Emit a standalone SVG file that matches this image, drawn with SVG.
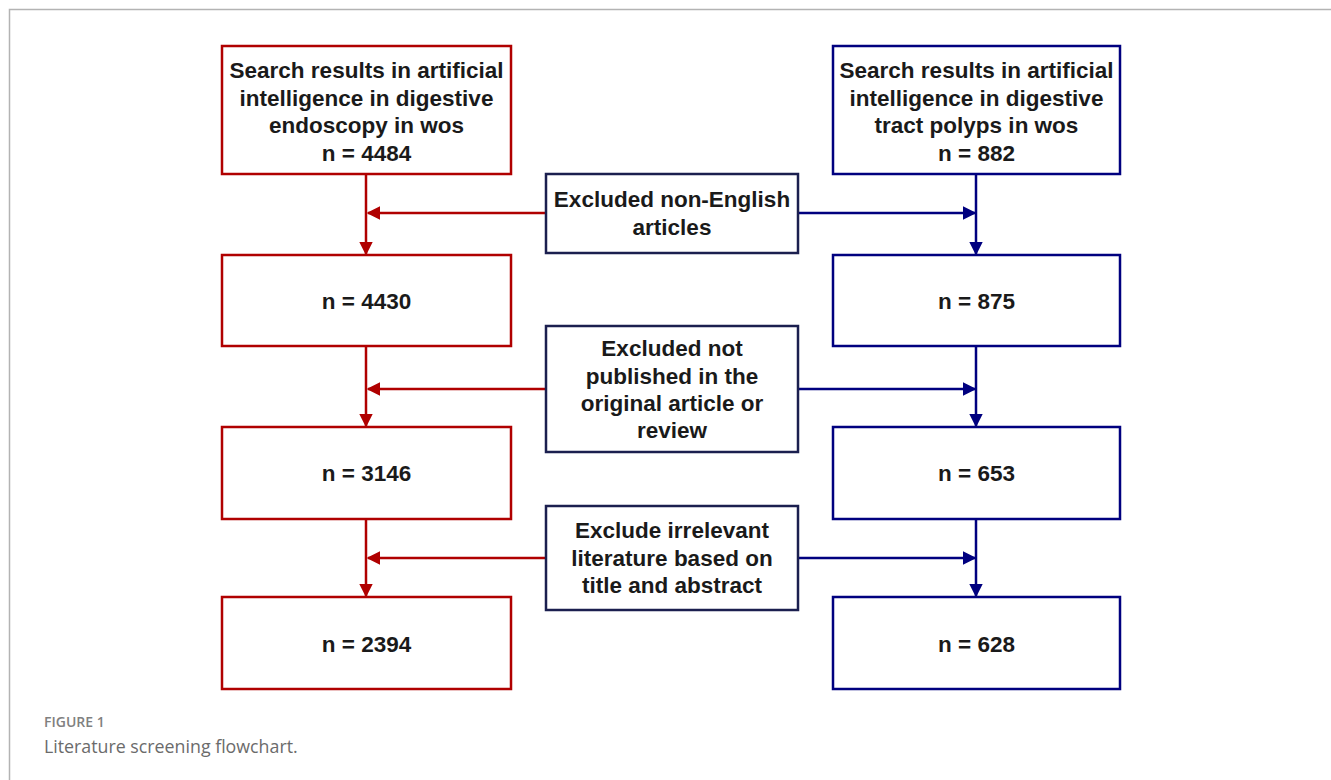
<svg xmlns="http://www.w3.org/2000/svg" width="1331" height="780" viewBox="0 0 1331 780">
<style>
.t{font-family:"Liberation Sans",Arial,sans-serif;font-weight:bold;font-size:22.5px;fill:#1a1a1a;text-anchor:middle}
.red{fill:#fff;stroke:#b00000;stroke-width:2.5}
.blue{fill:#fff;stroke:#00007f;stroke-width:2.5}
.mid{fill:#fff;stroke:#1b1f4f;stroke-width:2.5}
.rl{stroke:#b00000;stroke-width:2.5;fill:none}
.bl{stroke:#00007f;stroke-width:2.5;fill:none}
</style>
<defs>
<marker id="ar" viewBox="0 0 10 10" refX="9" refY="5" markerWidth="5.5" markerHeight="5.5" orient="auto" markerUnits="strokeWidth"><path d="M0,0L10,5L0,10z" fill="#b00000"/></marker>
<marker id="ab" viewBox="0 0 10 10" refX="9" refY="5" markerWidth="5.5" markerHeight="5.5" orient="auto" markerUnits="strokeWidth"><path d="M0,0L10,5L0,10z" fill="#00007f"/></marker>
</defs>
<rect width="1331" height="780" fill="#fff"/>
<path d="M9.5,780V9.5H1331" fill="none" stroke="#b3b3b3" stroke-width="1.5"/>
<g id="connectors">
<path class="rl" d="M366,174V254" marker-end="url(#ar)"/>
<path class="rl" d="M546,213H368" marker-end="url(#ar)"/>
<path class="bl" d="M976,174V254" marker-end="url(#ab)"/>
<path class="bl" d="M798,213H975" marker-end="url(#ab)"/>
<path class="rl" d="M366,346V426" marker-end="url(#ar)"/>
<path class="rl" d="M546,389H368" marker-end="url(#ar)"/>
<path class="bl" d="M976,346V426" marker-end="url(#ab)"/>
<path class="bl" d="M798,389H975" marker-end="url(#ab)"/>
<path class="rl" d="M366,519V596" marker-end="url(#ar)"/>
<path class="rl" d="M546,558H368" marker-end="url(#ar)"/>
<path class="bl" d="M976,519V596" marker-end="url(#ab)"/>
<path class="bl" d="M798,558H975" marker-end="url(#ab)"/>
</g>
<g id="l1"><rect class="red" x="222" y="46" width="289" height="128"/>
<text class="t" x="366.5" y="78">Search results in artificial</text>
<text class="t" x="366.5" y="106">intelligence in digestive</text>
<text class="t" x="366.5" y="133">endoscopy in wos</text>
<text class="t" x="366.5" y="161">n = 4484</text></g>
<g id="r1"><rect class="blue" x="833" y="46" width="287" height="128"/>
<text class="t" x="976.5" y="78">Search results in artificial</text>
<text class="t" x="976.5" y="106">intelligence in digestive</text>
<text class="t" x="976.5" y="133">tract polyps in wos</text>
<text class="t" x="976.5" y="161">n = 882</text></g>
<g id="l2"><rect class="red" x="222" y="255" width="289" height="91"/><text class="t" x="366.5" y="309">n = 4430</text></g>
<g id="r2"><rect class="blue" x="833" y="255" width="287" height="91"/><text class="t" x="976.5" y="309">n = 875</text></g>
<g id="l3"><rect class="red" x="222" y="427" width="289" height="92"/><text class="t" x="366.5" y="481">n = 3146</text></g>
<g id="r3"><rect class="blue" x="833" y="427" width="287" height="92"/><text class="t" x="976.5" y="481">n = 653</text></g>
<g id="l4"><rect class="red" x="222" y="597" width="289" height="92"/><text class="t" x="366.5" y="652">n = 2394</text></g>
<g id="r4"><rect class="blue" x="833" y="597" width="287" height="92"/><text class="t" x="976.5" y="652">n = 628</text></g>
<g id="m1"><rect class="mid" x="546" y="174" width="252" height="79"/>
<text class="t" x="672" y="207">Excluded non-English</text>
<text class="t" x="672" y="235">articles</text></g>
<g id="m2"><rect class="mid" x="546" y="326" width="252" height="126"/>
<text class="t" x="672" y="356">Excluded not</text>
<text class="t" x="672" y="384">published in the</text>
<text class="t" x="672" y="411">original article or</text>
<text class="t" x="672" y="438">review</text></g>
<g id="m3"><rect class="mid" x="546" y="506" width="252" height="104"/>
<text class="t" x="672" y="538">Exclude irrelevant</text>
<text class="t" x="672" y="566">literature based on</text>
<text class="t" x="672" y="593">title and abstract</text></g>
<text x="44" y="727" font-family="'Open Sans',sans-serif" font-size="14" font-weight="600" fill="#808080">FIGURE 1</text>
<text x="44" y="753" font-family="'Open Sans',sans-serif" font-size="17.8" fill="#6b6b6b">Literature screening flowchart.</text>
</svg>
